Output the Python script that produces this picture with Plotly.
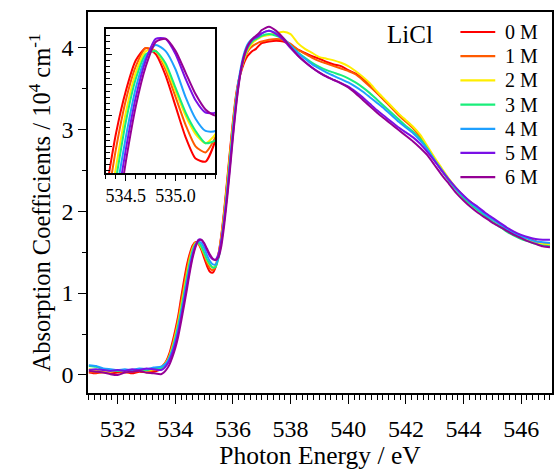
import numpy as np
import plotly.graph_objects as go

# Photon-energy sampling grid (eV): coarse on the baseline and tail, fine across the edge
energy = np.round(np.concatenate([
    np.arange(531.0, 533.51, 0.25),
    np.arange(533.6, 536.91, 0.1),
    np.arange(537.0, 547.01, 0.25),
]), 2)

labels = ["0 M", "1 M", "2 M", "3 M", "4 M", "5 M", "6 M"]
colors = ["#FF0000", "#FF5A00", "#FFEE00", "#19EE7A", "#1EA0FF", "#7A10E6", "#950095"]

# Absorption coefficients (10^4 cm^-1) for each LiCl concentration
abs_0M = [0.03, 0.02, 0.04, 0.02, 0.03, 0.04, 0.02, 0.04, 0.03, 0.04, 0.07,
          0.12, 0.18, 0.27, 0.40, 0.55, 0.72, 0.94, 1.15, 1.34, 1.48, 1.58, 1.62, 1.60, 1.53, 1.43, 1.33, 1.26,
          1.25, 1.32, 1.48, 1.72, 2.03, 2.38, 2.75, 3.10, 3.40, 3.60, 3.72, 3.82, 3.89, 3.93, 3.96, 3.98, 4.02,
          4.05, 4.07, 4.08, 4.07, 4.03, 3.97, 3.93, 3.89, 3.86, 3.82, 3.79, 3.77, 3.72, 3.68, 3.62, 3.53, 3.44,
          3.36, 3.27, 3.18, 3.10, 3.02, 2.91, 2.77, 2.63, 2.50, 2.38, 2.27, 2.18, 2.11, 2.04, 1.97, 1.90, 1.84,
          1.78, 1.74, 1.70, 1.67, 1.63, 1.61, 1.59]
abs_1M = [0.04, 0.03, 0.03, 0.04, 0.05, 0.03, 0.04, 0.05, 0.04, 0.06, 0.09,
          0.13, 0.17, 0.25, 0.37, 0.51, 0.68, 0.89, 1.09, 1.29, 1.45, 1.56, 1.62, 1.61, 1.55, 1.46, 1.37, 1.30,
          1.28, 1.33, 1.47, 1.70, 2.00, 2.35, 2.72, 3.07, 3.37, 3.59, 3.75, 3.86, 3.94, 3.99, 4.02, 4.04, 4.06,
          4.07, 4.09, 4.10, 4.09, 4.04, 3.97, 3.92, 3.87, 3.83, 3.80, 3.77, 3.74, 3.71, 3.67, 3.60, 3.52, 3.44,
          3.35, 3.26, 3.17, 3.09, 3.01, 2.90, 2.77, 2.63, 2.50, 2.38, 2.27, 2.18, 2.10, 2.03, 1.96, 1.89, 1.83,
          1.77, 1.73, 1.69, 1.66, 1.63, 1.61, 1.60]
abs_2M = [0.07, 0.06, 0.05, 0.04, 0.06, 0.05, 0.05, 0.06, 0.05, 0.07, 0.08,
          0.12, 0.16, 0.23, 0.34, 0.48, 0.64, 0.83, 1.03, 1.23, 1.41, 1.54, 1.61, 1.61, 1.56, 1.48, 1.40, 1.34,
          1.31, 1.34, 1.47, 1.68, 1.97, 2.31, 2.68, 3.04, 3.35, 3.58, 3.75, 3.87, 3.96, 4.02, 4.06, 4.09, 4.11,
          4.13, 4.15, 4.17, 4.19, 4.16, 4.05, 3.98, 3.93, 3.88, 3.86, 3.84, 3.81, 3.77, 3.71, 3.64, 3.56, 3.46,
          3.37, 3.28, 3.19, 3.11, 3.03, 2.93, 2.79, 2.65, 2.52, 2.39, 2.28, 2.18, 2.10, 2.03, 1.96, 1.89, 1.83,
          1.77, 1.72, 1.68, 1.65, 1.62, 1.60, 1.59]
abs_3M = [0.11, 0.10, 0.07, 0.06, 0.05, 0.06, 0.05, 0.07, 0.06, 0.08, 0.08,
          0.11, 0.15, 0.22, 0.32, 0.45, 0.61, 0.79, 0.99, 1.19, 1.38, 1.52, 1.60, 1.61, 1.57, 1.49, 1.41, 1.35,
          1.31, 1.32, 1.43, 1.64, 1.93, 2.27, 2.64, 3.01, 3.33, 3.58, 3.76, 3.89, 3.98, 4.04, 4.08, 4.10, 4.12,
          4.14, 4.16, 4.14, 4.10, 4.02, 3.94, 3.87, 3.81, 3.76, 3.72, 3.69, 3.66, 3.62, 3.57, 3.51, 3.44, 3.36,
          3.28, 3.20, 3.12, 3.04, 2.97, 2.88, 2.76, 2.62, 2.49, 2.37, 2.26, 2.16, 2.08, 2.01, 1.94, 1.87, 1.81,
          1.75, 1.70, 1.66, 1.63, 1.60, 1.58, 1.57]
abs_4M = [0.12, 0.11, 0.08, 0.07, 0.06, 0.07, 0.06, 0.08, 0.07, 0.09, 0.10,
          0.12, 0.15, 0.21, 0.30, 0.42, 0.57, 0.75, 0.94, 1.14, 1.33, 1.49, 1.59, 1.63, 1.61, 1.55, 1.46, 1.39,
          1.35, 1.35, 1.44, 1.63, 1.90, 2.23, 2.60, 2.98, 3.32, 3.60, 3.80, 3.94, 4.03, 4.08, 4.11, 4.13, 4.15,
          4.17, 4.20, 4.17, 4.11, 4.02, 3.93, 3.86, 3.79, 3.74, 3.69, 3.65, 3.61, 3.57, 3.52, 3.46, 3.39, 3.32,
          3.25, 3.17, 3.09, 3.02, 2.95, 2.86, 2.75, 2.62, 2.50, 2.38, 2.27, 2.18, 2.10, 2.03, 1.96, 1.90, 1.84,
          1.78, 1.73, 1.69, 1.66, 1.63, 1.62, 1.61]
abs_5M = [0.06, 0.07, 0.06, 0.05, 0.06, 0.05, 0.07, 0.06, 0.08, 0.07, 0.06,
          0.08, 0.12, 0.18, 0.27, 0.38, 0.52, 0.70, 0.89, 1.09, 1.29, 1.46, 1.58, 1.65, 1.65, 1.60, 1.52, 1.45,
          1.41, 1.41, 1.48, 1.65, 1.90, 2.21, 2.57, 2.94, 3.28, 3.56, 3.77, 3.91, 4.00, 4.06, 4.10, 4.12, 4.14,
          4.17, 4.20, 4.16, 4.09, 3.99, 3.90, 3.82, 3.75, 3.69, 3.64, 3.60, 3.56, 3.52, 3.46, 3.39, 3.31, 3.23,
          3.16, 3.09, 3.02, 2.96, 2.90, 2.82, 2.72, 2.61, 2.49, 2.38, 2.28, 2.19, 2.11, 2.05, 1.98, 1.92, 1.86,
          1.80, 1.75, 1.71, 1.68, 1.66, 1.65, 1.65]
abs_6M = [0.05, 0.04, 0.03, 0.01, 0.00, 0.03, 0.04, 0.05, 0.03, 0.02, 0.01,
          0.03, 0.07, 0.13, 0.22, 0.33, 0.47, 0.65, 0.84, 1.04, 1.25, 1.43, 1.56, 1.64, 1.65, 1.61, 1.54, 1.47,
          1.42, 1.40, 1.44, 1.58, 1.84, 2.16, 2.52, 2.90, 3.25, 3.54, 3.76, 3.91, 4.01, 4.07, 4.11, 4.14, 4.17,
          4.21, 4.25, 4.20, 4.11, 4.00, 3.90, 3.82, 3.75, 3.69, 3.64, 3.60, 3.56, 3.51, 3.44, 3.36, 3.28, 3.20,
          3.13, 3.06, 2.99, 2.92, 2.85, 2.77, 2.68, 2.56, 2.44, 2.33, 2.22, 2.13, 2.05, 1.98, 1.92, 1.86, 1.81,
          1.76, 1.71, 1.67, 1.63, 1.60, 1.57, 1.56]

series = [abs_0M, abs_1M, abs_2M, abs_3M, abs_4M, abs_5M, abs_6M]

SERIF = "Liberation Serif, Times New Roman, serif"

fig = go.Figure()

# Full spectra on the main axes
for name, col, vals in zip(labels, colors, series):
    fig.add_trace(go.Scatter(
        x=energy, y=vals, name=name, mode="lines", showlegend=False,
        line=dict(color=col, width=2, shape="spline", smoothing=0.6),
        xaxis="x", yaxis="y",
    ))

# Same spectra zoomed on the pre-edge peak in the inset
for name, col, vals in zip(labels, colors, series):
    fig.add_trace(go.Scatter(
        x=energy, y=vals, name=name, mode="lines", showlegend=False,
        line=dict(color=col, width=2, shape="spline", smoothing=0.6),
        xaxis="x2", yaxis="y2",
    ))

# Concentration key in the upper-right corner: a line sample plus its label per series
key_shapes = []
key_texts = []
for i, (name, col) in enumerate(zip(labels, colors)):
    yk = 0.9475 - i * 0.0635
    key_shapes.append(dict(
        type="line", xref="paper", yref="paper",
        x0=0.8026, x1=0.8777, y0=yk, y1=yk,
        line=dict(color=col, width=2.2),
    ))
    key_texts.append(dict(
        text=name, x=0.8948, y=yk, xref="paper", yref="paper",
        xanchor="left", yanchor="middle", showarrow=False,
        font=dict(family=SERIF, size=20, color="black"),
    ))

fig.update_layout(
    width=556, height=470,
    margin=dict(l=88, r=2, t=12, b=77),
    paper_bgcolor="white", plot_bgcolor="white",
    font=dict(family=SERIF, color="black"),
    showlegend=False,
    xaxis=dict(
        range=[530.97, 547.07], dtick=2, tick0=532,
        showline=True, linecolor="black", linewidth=1.5, mirror=True,
        ticks="outside", ticklen=9, tickwidth=1.2, tickcolor="black",
        minor=dict(dtick=0.2, ticks="outside", ticklen=5, tickwidth=1, tickcolor="black"),
        showgrid=False, zeroline=False,
        ticklabelstandoff=4,
        tickfont=dict(family=SERIF, size=24, color="black"),
        title=dict(text="Photon Energy / eV", font=dict(family=SERIF, size=25.5, color="black"), standoff=6),
    ),
    yaxis=dict(
        range=[-0.22, 4.43], dtick=1, tick0=0,
        showline=True, linecolor="black", linewidth=1.5, mirror=True,
        ticks="outside", ticklen=8, tickwidth=1.2, tickcolor="black",
        minor=dict(dtick=0.5, ticks="outside", ticklen=4, tickwidth=1, tickcolor="black"),
        showgrid=False, zeroline=False,
        tickfont=dict(family=SERIF, size=24, color="black"),
        title=dict(text="Absorption Coefficients / 10<sup>4</sup> cm<sup>-1</sup>",
                   font=dict(family=SERIF, size=24.5, color="black"), standoff=4),
    ),
    xaxis2=dict(
        domain=[0.0386, 0.2747], anchor="y2",
        range=[534.30, 535.40], dtick=0.5, tick0=534.5, tickformat=".1f",
        showline=True, linecolor="black", linewidth=1.5, mirror=True,
        ticks="outside", ticklen=6, tickwidth=1.2, tickcolor="black",
        minor=dict(dtick=0.1, ticks="outside", ticklen=4, tickwidth=1, tickcolor="black"),
        showgrid=False, zeroline=False,
        tickfont=dict(family=SERIF, size=18, color="black"),
    ),
    yaxis2=dict(
        domain=[0.5774, 0.9554], anchor="x2",
        range=[1.213, 1.682], dtick=0.1, tick0=1.0,
        showline=True, linecolor="black", linewidth=1.5, mirror=True,
        ticks="inside", ticklen=6, tickwidth=1.2, tickcolor="black",
        minor=dict(dtick=0.02, ticks="inside", ticklen=4, tickwidth=1, tickcolor="black"),
        showticklabels=False, showgrid=False, zeroline=False,
    ),
    shapes=key_shapes,
    annotations=[dict(
        text="LiCl", x=0.694, y=0.94, xref="paper", yref="paper",
        xanchor="center", yanchor="middle", showarrow=False,
        font=dict(family=SERIF, size=25, color="black"),
    )] + key_texts,
)

fig.write_html("out.html")
